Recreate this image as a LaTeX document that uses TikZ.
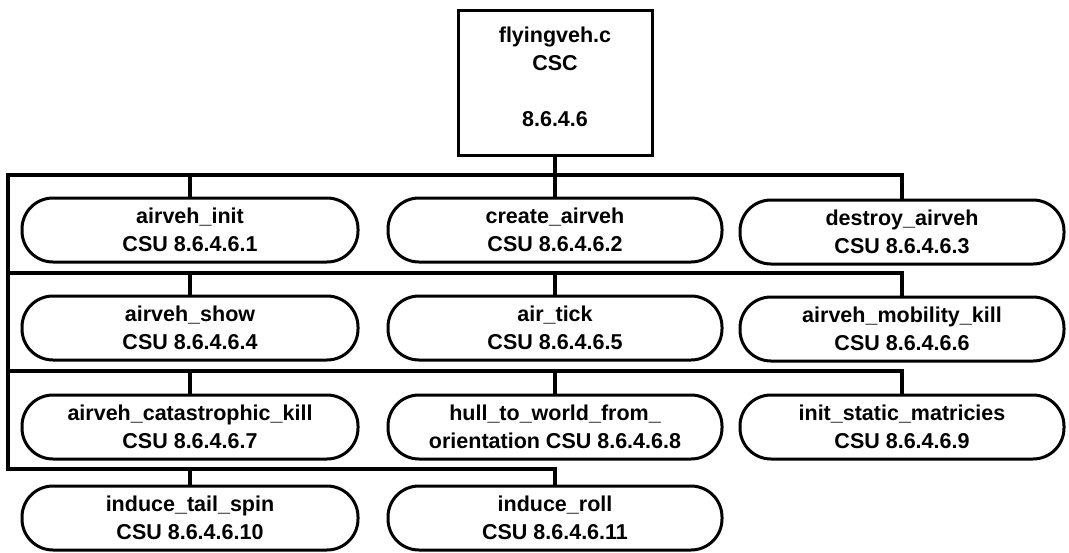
\documentclass[tikz,border=0pt]{standalone}
\usepackage{fontspec}
\newfontfamily\dfont{Liberation Sans}
\newcommand\twoline[2]{\rule{0pt}{25pt}#1\\#2\rule[-11pt]{0pt}{11pt}}
\begin{document}
\begin{tikzpicture}[x=1pt,y=-1pt,
  every node/.style={font=\dfont\bfseries\fontsize{21.5}{28}\selectfont, align=center, inner sep=0pt},
  csu/.style={draw, line width=3pt, rounded corners=31pt, minimum height=64pt},
  csc/.style={draw, line width=3pt, minimum width=194pt, minimum height=145pt},
  wire/.style={line width=3.2pt}]
\useasboundingbox (0,0) rectangle (1069,552);
\node[csc] (top) at (555,82.5) {\rule{0pt}{32pt}flyingveh.c\\CSC\\[28pt]8.6.4.6\rule[-29pt]{0pt}{29pt}};
% row 1
\node[csu, minimum width=336pt] (a1) at (190,230) {\twoline{airveh\_init}{CSU 8.6.4.6.1}};
\node[csu, minimum width=334pt] (a2) at (555,230) {\twoline{create\_airveh}{CSU 8.6.4.6.2}};
\node[csu, minimum width=324pt] (a3) at (902,232) {\twoline{destroy\_airveh}{CSU 8.6.4.6.3}};
% row 2
\node[csu, minimum width=336pt] (a4) at (190,328) {\twoline{airveh\_show}{CSU 8.6.4.6.4}};
\node[csu, minimum width=334pt] (a5) at (555,328) {\twoline{air\_tick}{CSU 8.6.4.6.5}};
\node[csu, minimum width=324pt] (a6) at (902,329) {\twoline{airveh\_mobility\_kill}{CSU 8.6.4.6.6}};
% row 3
\node[csu, minimum width=336pt] (a7) at (190,427) {\twoline{airveh\_catastrophic\_kill}{CSU 8.6.4.6.7}};
\node[csu, minimum width=334pt] (a8) at (555,427) {\twoline{hull\_to\_world\_from\_}{orientation CSU 8.6.4.6.8}};
\node[csu, minimum width=324pt] (a9) at (902,427) {\twoline{init\_static\_matricies}{CSU 8.6.4.6.9}};
% row 4
\node[csu, minimum width=336pt] (a10) at (190,518) {\twoline{induce\_tail\_spin}{CSU 8.6.4.6.10}};
\node[csu, minimum width=334pt] (a11) at (555,518) {\twoline{induce\_roll}{CSU 8.6.4.6.11}};
% buses
\coordinate (L1) at (8,175);
\coordinate (L2) at (8,273);
\coordinate (L3) at (8,371);
\coordinate (L4) at (8,469);
\draw[wire] (top.south) -- (a2.north);
\draw[wire] (a3.north) |- (L1) -- (L4) -| (a11.north);
\draw[wire] (a1.north) -- (a1.north |- L1);
\draw[wire] (a6.north) |- (L2);
\draw[wire] (a4.north) -- (a4.north |- L2);
\draw[wire] (a5.north) -- (a5.north |- L2);
\draw[wire] (a9.north) |- (L3);
\draw[wire] (a7.north) -- (a7.north |- L3);
\draw[wire] (a8.north) -- (a8.north |- L3);
\draw[wire] (a10.north) -- (a10.north |- L4);
\end{tikzpicture}
\end{document}
